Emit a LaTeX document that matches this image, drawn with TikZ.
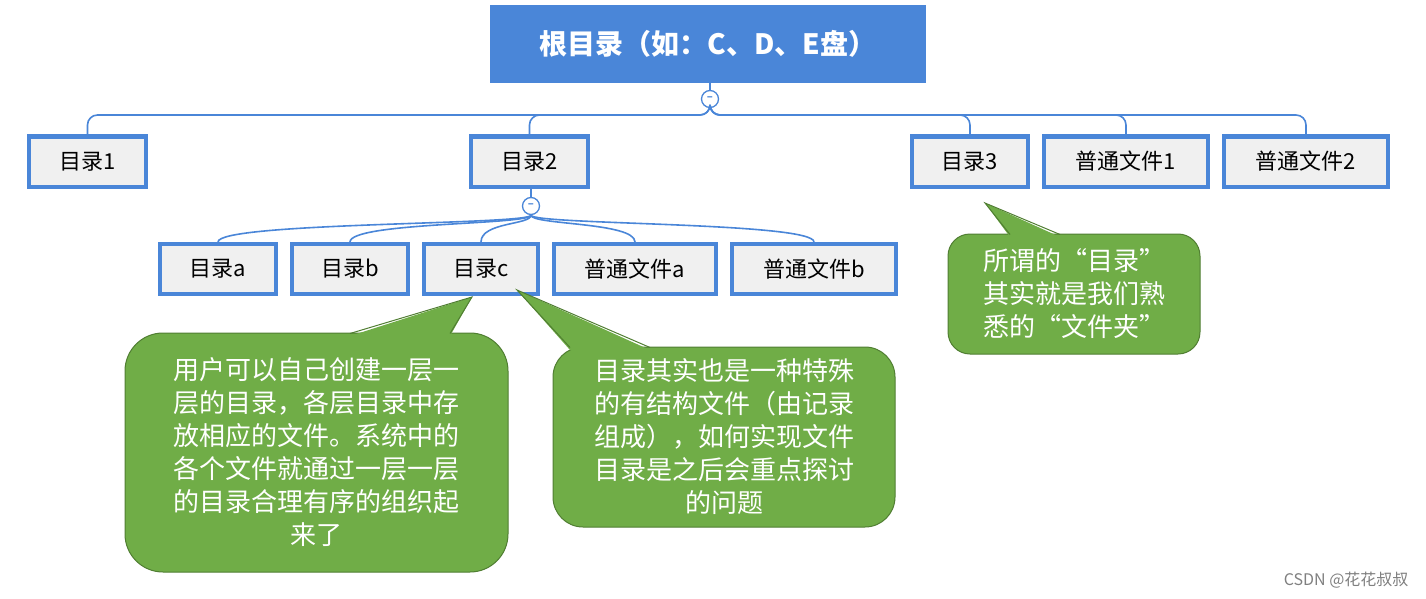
\documentclass[tikz,border=0pt]{standalone}
\usepackage{fontspec}
\setmainfont{Noto Sans CJK SC}
\newfontfamily\cjk{Noto Sans CJK SC}
\begin{document}
\definecolor{bl}{HTML}{4A86D8}
\definecolor{gf}{HTML}{70AD47}
\definecolor{gd}{HTML}{507E32}
\begin{tikzpicture}[x=1pt,y=-1pt,
 box/.style={draw=bl,line width=4pt,fill=gray!12,inner sep=0pt,font=\cjk\fontsize{22}{22}\selectfont},
 ln/.style={draw=bl,line width=1.6pt},
 co/.style={draw=bl,line width=1.3pt,fill=white,circle,minimum size=17pt,inner sep=0pt,text=bl,font=\bfseries\fontsize{11}{11}\selectfont},
 call/.style={draw=gd,line width=1pt,fill=gf},
 ct/.style={text=white,align=center,font=\cjk\fontsize{26}{33}\selectfont}]
\useasboundingbox (0,0) rectangle (1426,599);
\node[fill=bl,minimum width=436pt,minimum height=78pt,text=white,font=\cjk\bfseries\fontsize{28}{28}\selectfont] (root) at (708,44) {根目录（如：C、D、E盘）};
\def\bx#1#2#3#4#5{\node[box,minimum width=#3pt,minimum height=50pt] (#1) at (#2,#4) {#5};}
\bx{d1}{87.5}{117}{161.5}{目录1}
\bx{d2}{529.5}{117}{161.5}{目录2}
\bx{d3}{970}{116}{161.5}{目录3}
\bx{f1}{1126}{164}{161.5}{普通文件1}
\bx{f2}{1306}{164}{161.5}{普通文件2}
\bx{da}{218}{116}{269}{目录a}
\bx{db}{350}{116}{269}{目录b}
\bx{dc}{481}{114}{269}{目录c}
\bx{fa}{635}{162}{269}{普通文件a}
\bx{fb}{814}{164}{269}{普通文件b}
\node[co] (c1) at (710,99) {--};
\node[co] (c2) at (531,206) {--};
\draw[ln] (root.south -| c1) -- (c1.north);
\draw[ln] (d2.south -| c2) -- (c2.north);
\foreach \n in {d1,d2,d3,f1,f2}{
 \draw[ln,rounded corners=10pt] (c1.south) -- (c1.south |- 0,115) -| (\n.north);}
\foreach \n in {da,db,dc,fa,fb}{
 \draw[ln] (c2.south) .. controls (c2.south |- 0,225) and (\n.north |- 0,222) .. (\n.north);}
% callouts
\draw[call,rounded corners=38pt] (125,333) rectangle (508,572);
\fill[gf] (350,336) -- (472,297) -- (450,336) -- cycle;
\draw[gd,line width=1pt] (350,333.5) -- (472,297) -- (450,333.5);
\node[ct] (t1) at (316,452) {用户可以自己创建一层一\\层的目录，各层目录中存\\放相应的文件。系统中的\\各个文件就通过一层一层\\的目录合理有序的组织起\\来了};
\draw[call,rounded corners=30pt] (553,347) rectangle (895,527);
\fill[gf] (570,350) -- (517,290) -- (650,350) -- cycle;
\draw[gd,line width=1pt] (570,347.5) -- (517,290) -- (650,347.5);
\node[ct] (t2) at (724,437) {目录其实也是一种特殊\\的有结构文件（由记录\\组成），如何实现文件\\目录是之后会重点探讨\\的问题};
\draw[call,rounded corners=22pt] (948,234) rectangle (1200,354);
\fill[gf] (1010,237) -- (985,203) -- (1060,237) -- cycle;
\draw[gd,line width=1pt] (1010,234.5) -- (985,203) -- (1060,234.5);
\node[ct,align=left] (t3) at (1074,294) {所谓的“目录”\\其实就是我们熟\\悉的“文件夹”};
\node[text=gray,font=\cjk\fontsize{16}{16}\selectfont,anchor=east] (wm) at (1412,580) {CSDN @花花叔叔};
\end{tikzpicture}
\end{document}
